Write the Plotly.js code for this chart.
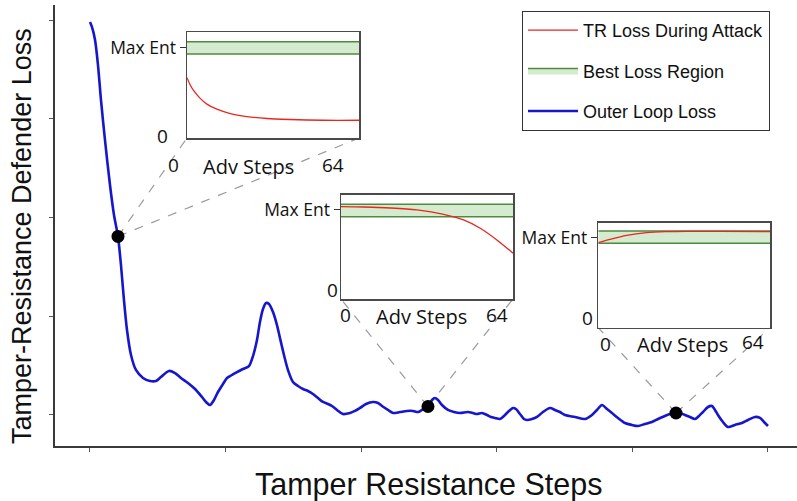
<!DOCTYPE html>
<html><head><meta charset="utf-8">
<script src="https://cdn.plot.ly/plotly-3.0.1.min.js"></script>
<style>html,body{margin:0;padding:0;background:#fff}#chart{width:797px;height:501px}</style>
</head><body><div id="chart"></div>
<script>
// ---- main curve: Tamper-resistance defender loss vs tamper resistance steps ----
const outerSteps = [0,0.29,0.74,1.18,1.62,2.21,2.95,3.54,4.13,4.57,5.01,5.46,6.05,6.78,7.82,8.85,9.73,10.47,11.65,12.54,13.42,14.45,15.49,16.52,17.11,17.70,18.29,18.88,19.62,20.21,20.94,21.68,22.57,23.45,24.04,24.63,25.07,25.52,25.96,26.40,26.99,27.58,28.02,28.61,29.20,29.94,30.68,31.42,32.15,32.89,33.63,34.37,35.10,35.69,36.43,37.31,38.35,39.08,39.82,40.71,41.74,42.48,43.07,43.95,44.69,45.72,46.75,47.64,48.38,48.97,49.85,50.44,50.88,51.33,51.92,52.80,53.69,54.57,55.75,56.49,57.08,57.82,58.55,59.14,59.73,60.47,61.06,61.65,62.39,62.83,63.42,64.01,64.45,65.19,65.93,66.81,67.85,68.58,69.32,70.06,71.53,73.01,74.04,74.78,75.51,76.25,76.99,77.88,78.91,79.94,80.82,81.86,82.89,83.78,84.81,85.55,86.43,87.02,87.76,88.49,89.23,89.82,90.41,91.15,91.74,92.18,92.62,93.36,94.10,95.13,96.16,97.05,98.08,98.82,99.41,100];
const outerLoss = [4.98,4.93,4.80,4.544,4.19,3.785,3.329,3.025,2.808,2.519,2.165,1.861,1.608,1.456,1.375,1.344,1.344,1.385,1.446,1.425,1.375,1.324,1.263,1.182,1.132,1.101,1.152,1.233,1.314,1.375,1.405,1.435,1.466,1.496,1.597,1.760,1.942,2.073,2.134,2.124,2.043,1.911,1.780,1.608,1.456,1.334,1.294,1.263,1.243,1.213,1.172,1.132,1.111,1.091,1.051,1.010,1.020,1.041,1.071,1.111,1.132,1.122,1.091,1.051,1.020,1.030,1.041,1.041,1.030,1.051,1.086,1.152,1.172,1.152,1.101,1.051,1.030,1.020,1.030,1.020,1.010,1.020,1.000,0.980,0.970,0.959,0.990,1.030,1.071,1.061,1.010,0.959,0.949,0.959,0.980,1.030,1.071,1.051,1.030,1.000,0.980,0.959,1.000,1.051,1.101,1.061,1.020,0.970,0.919,0.899,0.889,0.909,0.929,0.959,0.990,1.010,1.020,1.020,1.000,0.980,0.959,0.990,1.030,1.081,1.091,1.051,1.000,0.929,0.878,0.899,0.919,0.949,0.980,0.970,0.929,0.889];
const probeSteps = [4.13, 49.85, 86.43];
const probeLoss  = [2.808, 1.086, 1.020];
const xTickVals = [0,20,40,60,80,100];
const yTickVals = [1,2,3,4,5];

// ---- insets: TR loss during attack (adv steps 0..64, Max Ent = 1) ----
const advSteps1 = [0,1.2,2.5,4.9,7.4,11.1,16.1,22.2,29.7,38.3,50.7,64];
const attackLoss1 = [0.666,0.585,0.522,0.437,0.374,0.318,0.270,0.237,0.215,0.204,0.196,0.196];
const advSteps2 = [0,8.4,18.4,28.3,38.2,45.6,51.8,58,64];
const attackLoss2 = [1.036,1.032,1.021,0.999,0.950,0.887,0.794,0.663,0.514];
const advSteps3 = [0,4.35,10.6,18,25.5,32.9,45.4,64];
const attackLoss3 = [0.947,0.984,1.029,1.059,1.070,1.074,1.074,1.070];
const bandLow  = [0.927, 0.923, 0.940];
const bandHigh = [1.063, 1.062, 1.077];
const advRange = [0, 64];
const maxEnt = 1;
const insetTickLabels = ['0', 'Adv Steps', '64'];

// ---- layout geometry ----
const W = 797, H = 501;
const mainXDom = [55/W, 1], mainYDom = [55/H, 496/H];
const mainXRange = [-5.16, 104.28], mainYRange = [0.686, 5.152];
const insetXDom = [[187/W, 359/W], [341/W, 513/W], [598.3/W, 770/W]];
const insetYDom = [[(H-138)/H, (H-32)/H], [(H-299)/H, (H-194.7)/H], [(H-327.7)/H, (H-222.7)/H]];
const insetYRange = [0, 1.17];
// label positions in inset data coords [x, y]
const insetZeroY = [[-9.3, 0.027], [-3, 0.10], [-4.2, 0.108]];
const insetXLab = [
  [[-5.2,-0.30],[22.7,-0.32],[54.3,-0.30]],
  [[1.5,-0.18],[29.8,-0.20],[58.2,-0.18]],
  [[2.5,-0.18],[31.4,-0.19],[57.7,-0.16]]
];

const blue = '#1616cc', red = '#e8271f', green = '#4f8a3e', greenFill = '#d4ebcf';
const labelFont = 'Open Sans, Noto Sans, sans-serif';
const arial = 'Liberation Sans, Arial, sans-serif';

const advX = [advSteps1, advSteps2, advSteps3];
const advY = [attackLoss1, attackLoss2, attackLoss3];

const traces = [
  {x: outerSteps, y: outerLoss, type: 'scatter', mode: 'lines', name: 'Outer Loop Loss',
   line: {color: blue, width: 2.6, shape: 'spline', smoothing: 0.8}, legendrank: 3, legendgroup: 'outer',
   xaxis: 'x', yaxis: 'y'},
  {x: probeSteps, y: probeLoss, type: 'scatter', mode: 'markers', showlegend: false,
   marker: {color: '#000', size: 13}, xaxis: 'x', yaxis: 'y', hoverinfo: 'skip', legendgroup: 'outer'}
];

const layout = {
  width: W, height: H, autosize: false,
  margin: {l: 0, r: 0, t: 0, b: 0, pad: 0},
  paper_bgcolor: '#fff', plot_bgcolor: '#fff',
  showlegend: true,
  legend: {x: 522/W, y: 1 - 11/H, xanchor: 'left', yanchor: 'top',
    bgcolor: '#fff', bordercolor: '#333', borderwidth: 1,
    font: {family: arial, size: 18, color: '#111'}, itemwidth: 50,
    tracegroupgap: 14, traceorder: 'grouped'},
  xaxis: {domain: mainXDom, range: mainXRange, showline: true, linecolor: '#3a3a3a', linewidth: 1.6,
    showgrid: false, zeroline: false, ticks: 'outside', ticklen: 4, tickcolor: '#555',
    tickvals: xTickVals, showticklabels: false, anchor: 'y'},
  yaxis: {domain: mainYDom, range: mainYRange, showline: true, linecolor: '#3a3a3a', linewidth: 1.6,
    showgrid: false, zeroline: false, ticks: 'outside', ticklen: 4, tickcolor: '#555',
    tickvals: yTickVals, showticklabels: false, anchor: 'x'},
  annotations: [
    {text: 'Tamper Resistance Steps', xref: 'paper', yref: 'paper', x: 429/W, y: 1 - 484/H,
     xanchor: 'center', yanchor: 'middle', showarrow: false, font: {family: arial, size: 30.5, color: '#111'}},
    {text: 'Tamper-Resistance Defender Loss', xref: 'paper', yref: 'paper', x: 22/W, y: 1 - 236/H,
     xanchor: 'center', yanchor: 'middle', textangle: -90, showarrow: false,
     font: {family: arial, size: 27, color: '#111'}}
  ],
  shapes: []
};

function toPaperX(v) { return mainXDom[0] + (v - mainXRange[0]) / (mainXRange[1] - mainXRange[0]) * (mainXDom[1] - mainXDom[0]); }
function toPaperY(v) { return mainYDom[0] + (v - mainYRange[0]) / (mainYRange[1] - mainYRange[0]) * (mainYDom[1] - mainYDom[0]); }
function insetPX(i, v) { return insetXDom[i][0] + (v - advRange[0]) / (advRange[1] - advRange[0]) * (insetXDom[i][1] - insetXDom[i][0]); }
function insetPY(i, v) { return insetYDom[i][0] + (v - insetYRange[0]) / (insetYRange[1] - insetYRange[0]) * (insetYDom[i][1] - insetYDom[i][0]); }

for (let i = 0; i < 3; i++) {
  const n = i + 2, xa = 'x' + n, ya = 'y' + n;
  traces.push({x: advRange, y: [bandLow[i], bandLow[i]], type: 'scatter', mode: 'lines', showlegend: false,
    line: {color: green, width: 1.5}, xaxis: xa, yaxis: ya, hoverinfo: 'skip', legendgroup: 'band'});
  traces.push({x: advRange, y: [bandHigh[i], bandHigh[i]], type: 'scatter', mode: 'lines', fill: 'tonexty',
    fillcolor: greenFill, line: {color: green, width: 1.5}, name: 'Best Loss Region', showlegend: i === 0,
    legendrank: 2, legendgroup: 'band', xaxis: xa, yaxis: ya});
  traces.push({x: advX[i], y: advY[i], type: 'scatter', mode: 'lines', name: 'TR Loss During Attack',
    showlegend: i === 0, legendrank: 1, legendgroup: 'tr', line: {color: red, width: 1.3, shape: 'spline', smoothing: 0.9},
    xaxis: xa, yaxis: ya});
  layout['xaxis' + n] = {domain: insetXDom[i], range: advRange, anchor: ya, showline: true, mirror: true,
    linecolor: '#4a4a4a', linewidth: 1.5, showgrid: false, zeroline: false, showticklabels: false, ticks: ''};
  layout['yaxis' + n] = {domain: insetYDom[i], range: insetYRange, anchor: xa, showline: true, mirror: true,
    linecolor: '#4a4a4a', linewidth: 1.5, showgrid: false, zeroline: false, tickvals: [maxEnt], ticktext: ['Max Ent'],
    ticks: 'outside', ticklen: 6, tickcolor: '#333', tickfont: {family: labelFont, size: 17.5, color: '#111'}};
  layout.annotations.push({text: '0', xref: 'paper', yref: 'paper', x: insetPX(i, insetZeroY[i][0]), y: insetPY(i, insetZeroY[i][1]),
    showarrow: false, xanchor: 'center', yanchor: 'middle', font: {family: labelFont, size: 19, color: '#111'}});
  insetXLab[i].forEach((p, k) => {
    layout.annotations.push({text: insetTickLabels[k], xref: 'paper', yref: 'paper', x: insetPX(i, p[0]), y: insetPY(i, p[1]),
      showarrow: false, xanchor: 'center', yanchor: 'middle', font: {family: labelFont, size: k === 1 ? 20 : 19, color: '#111'}});
  });
  // dashed connectors from probe point to inset bottom corners
  const px = toPaperX(probeSteps[i]), py = toPaperY(probeLoss[i]);
  [insetXDom[i][0], insetXDom[i][1]].forEach(cx => {
    layout.shapes.push({type: 'line', xref: 'paper', yref: 'paper', x0: px, y0: py, x1: cx, y1: insetYDom[i][0],
      line: {color: '#9a9a9a', width: 1.2, dash: 'dash'}, layer: 'below'});
  });
}

Plotly.newPlot('chart', traces, layout, {staticPlot: true, displayModeBar: false});
</script></body></html>
